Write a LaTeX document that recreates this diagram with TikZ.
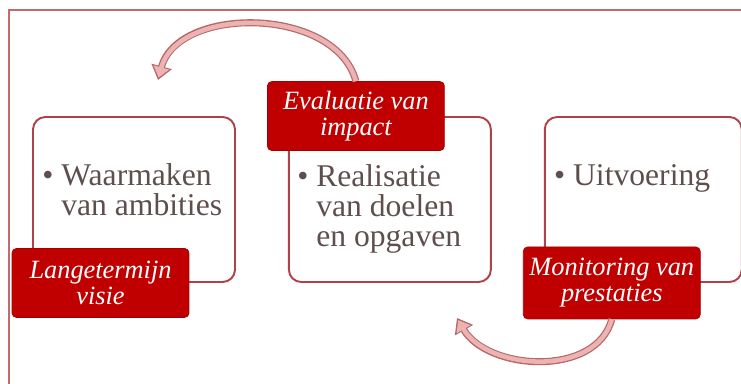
\documentclass[tikz,border=0pt]{standalone}
\usepackage{fontspec}
\setmainfont{Liberation Serif}
\usetikzlibrary{arrows.meta,positioning}
\definecolor{framered}{HTML}{C46A6A}
\definecolor{boxred}{HTML}{B0404A}
\definecolor{tagred}{HTML}{C00000}
\definecolor{bodytext}{HTML}{5E4E4E}
\definecolor{arrowline}{HTML}{B56868}
\definecolor{arrowfill}{HTML}{EDB3B3}

\begin{document}
\begin{tikzpicture}[x=0.02cm,y=0.02cm]
        \tikzset{block/.style={draw=boxred, line width=1.1pt, rounded corners=7pt, minimum width=4.04cm, minimum height=3.3cm},
        tag/.style={fill=tagred, draw=tagred!85!black, line width=0.4pt, rounded corners=2.5pt, align=center, text=white,
            font=\fontsize{15}{14.7}\selectfont\itshape, minimum width=3.54cm, minimum height=1.38cm, inner sep=1pt},
        item/.style={anchor=north west, align=left, inner sep=0pt, text=bodytext, font=\fontsize{18}{17}\selectfont},
        loopout/.style={line width=4pt, draw=arrowline, -{Triangle[width=11.5pt,length=8pt]}},
        loopin/.style={line width=2.6pt, draw=arrowfill, shorten >=1.4pt, -{Triangle[width=8.8pt,length=6pt]}},
        }
        \useasboundingbox (0,0) rectangle (741,383);
        \draw[framered, line width=1.1pt] (9,-20) rectangle (770,373);

        \node[block] (vision) at (134,183.5) {};
        \node[block, right=1.04cm of vision] (goals) {};
        \node[block, minimum width=3.94cm, right=1.04cm of goals] (exec) {};

        \node[item] (visiontext) at ([shift={(10,-47)}]vision.north west) {\textbullet\ Waarmaken\\\hphantom{\textbullet\ }van ambities};
        \node[item] (goalstext) at ([shift={(9,-48)}]goals.north west) {\textbullet\ Realisatie\\\hphantom{\textbullet\ }van doelen\\\hphantom{\textbullet\ }en opgaven};
        \node[item] (exectext) at ([shift={(10,-48)}]exec.north west) {\textbullet\ Uitvoering};

        \node[tag] (visiontag) at ([xshift=-0.67cm]vision.south) {Langetermijn\\visie};
        \node[tag] (evaltag) at ([xshift=-0.68cm]goals.north) {Evaluatie van\\impact};
        \node[tag, minimum height=1.44cm] (monitag) at ([xshift=-0.63cm]exec.south) {Monitoring van\\prestaties};

        \coordinate (visiontip) at (158,303);
        \coordinate (goalstip) at (457,65);

%% loops
        \draw[loopout] (evaltag.north) to[out=105,in=75] (visiontip);
        \draw[loopin] (evaltag.north) to[out=105,in=75] (visiontip);
        \draw[loopout] (monitag.south) to[out=-105,in=-60] (goalstip);
        \draw[loopin] (monitag.south) to[out=-105,in=-60] (goalstip);
\end{tikzpicture}
\end{document}
